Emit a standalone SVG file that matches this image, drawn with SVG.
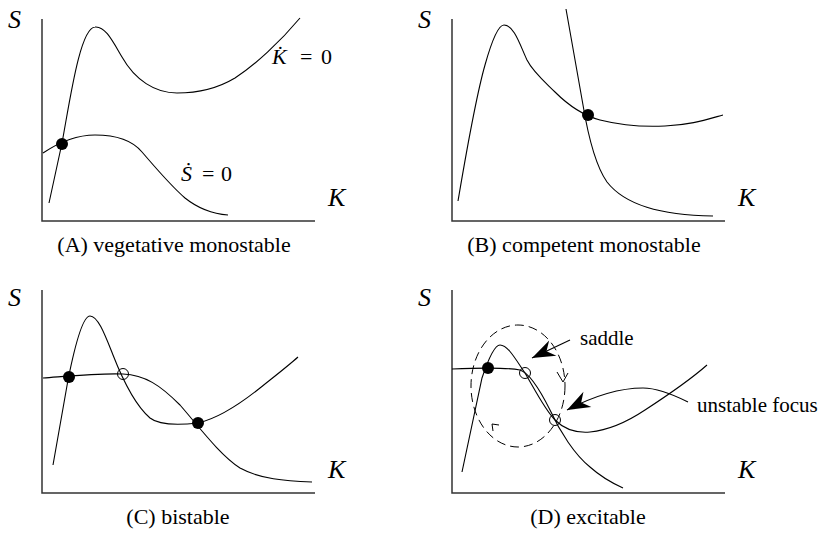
<svg xmlns="http://www.w3.org/2000/svg" width="833" height="538" viewBox="0 0 833 538">
<style>
  .axis { fill: none; stroke: #333; stroke-width: 1.5; }
  .curve { fill: none; stroke: #000; stroke-width: 1.1; }
  .dash { fill: none; stroke: #000; stroke-width: 1; stroke-dasharray: 9 5; }
  .chev { fill: none; stroke: #000; stroke-width: 1; }
  .stable { fill: #000; }
  .unstable { fill: none; stroke: #000; stroke-width: 1; }
</style>
<defs>
  <marker id="bigarrow" markerUnits="userSpaceOnUse" markerWidth="28" markerHeight="22" viewBox="-25 -11 28 22" refX="0" refY="0" orient="auto">
    <path d="M0,0 L-23,-8.5 L-16,0 L-23,8.5 Z" fill="#000"/>
  </marker>
</defs>

<g id="panelA">
  <path class="axis" d="M42,19 L42,221 L315,221"/>
  <text font-family="'Liberation Serif', serif" font-style="italic" font-size="26" x="8" y="28">S</text>
  <text font-family="'Liberation Serif', serif" font-style="italic" font-size="26" x="328" y="206">K</text>
  <path class="curve" d="M49,203 L62,143 C70,100 80,28 95,27 C105,26 112,40 122,57 C135,80 155,93 177,93 C200,93 220,87 235,78 C255,65 280,42 300,18"/>
  <path class="curve" d="M43,153 C55,145 75,135 95,135 C115,135 132,140 142,152 C155,167 170,185 185,198 C200,210 215,214 228,215"/>
  <circle class="stable" cx="62" cy="144" r="6"/>
  <text font-family="'Liberation Serif', serif" font-size="22" x="272" y="64"><tspan font-style="italic">K&#x307;</tspan><tspan x="300">=</tspan><tspan x="321">0</tspan></text>
  <text font-family="'Liberation Serif', serif" font-size="22" x="181" y="181"><tspan font-style="italic">S&#x307;</tspan><tspan x="202">=</tspan><tspan x="221">0</tspan></text>
  <text font-family="'Liberation Serif', serif" font-size="22" text-anchor="middle" x="174" y="252">(A) vegetative monostable</text>
</g>

<g id="panelB">
  <path class="axis" d="M452,19 L452,221 L725,221"/>
  <text font-family="'Liberation Serif', serif" font-style="italic" font-size="26" x="418" y="28">S</text>
  <text font-family="'Liberation Serif', serif" font-style="italic" font-size="26" x="738" y="206">K</text>
  <path class="curve" d="M458,201 C465,160 475,100 485,65 C492,40 498,25 504,25 C514,25 520,45 527,60 C533,72 545,82 555,92 C570,107 585,116 600,120 C620,125 645,127 665,126 C690,125 705,120 723,115"/>
  <path class="curve" d="M566,9 L583,105 C588,135 595,165 607,182 C625,205 660,215 713,216"/>
  <circle class="stable" cx="588" cy="115" r="6"/>
  <text font-family="'Liberation Serif', serif" font-size="22" text-anchor="middle" x="584" y="252">(B) competent monostable</text>
</g>

<g id="panelC">
  <path class="axis" d="M42,290 L42,493 L315,493"/>
  <text font-family="'Liberation Serif', serif" font-style="italic" font-size="26" x="8" y="306">S</text>
  <text font-family="'Liberation Serif', serif" font-style="italic" font-size="26" x="328" y="478">K</text>
  <path class="curve" d="M53,465 L68,380 C74,350 82,316 90,316 C98,316 105,335 113,355 C122,378 135,405 150,418 C160,426 180,425 198,423 C220,418 245,400 260,388 C275,376 288,366 298,357"/>
  <path class="curve" d="M43,378 C70,376 100,373 123,374 C145,375 160,385 180,405 C200,428 220,455 240,468 C260,479 285,481 312,482"/>
  <circle class="stable" cx="69" cy="377" r="6"/>
  <circle class="unstable" cx="123" cy="374" r="5.5"/>
  <circle class="stable" cx="198" cy="423" r="6"/>
  <text font-family="'Liberation Serif', serif" font-size="22" text-anchor="middle" x="178" y="524">(C) bistable</text>
</g>

<g id="panelD">
  <path class="axis" d="M452,290 L452,493 L725,493"/>
  <text font-family="'Liberation Serif', serif" font-style="italic" font-size="26" x="418" y="306">S</text>
  <text font-family="'Liberation Serif', serif" font-style="italic" font-size="26" x="738" y="478">K</text>
  <path class="curve" d="M462,472 L482,378 C488,360 494,345 500,345 C508,345 516,360 525,373 C535,390 545,410 555,420 C565,430 578,433 590,432 C610,430 630,420 645,410 C665,397 690,380 707,365"/>
  <path class="curve" d="M452,369 C475,368 505,367 520,370 C530,373 540,390 550,410 C560,432 575,455 590,467 C600,476 612,483 623,488"/>
  <ellipse class="dash" cx="518" cy="386" rx="47" ry="61"/>
  <polyline class="chev" points="557,372 563,382 568,373"/>
  <polyline class="chev" points="499,425 492,424 493,431"/>
  <circle class="stable" cx="488" cy="368" r="6"/>
  <circle class="unstable" cx="525" cy="373" r="5.5"/>
  <circle class="unstable" cx="555" cy="420" r="5.5"/>
  <text font-family="'Liberation Serif', serif" font-size="21" x="580" y="345">saddle</text>
  <text font-family="'Liberation Serif', serif" font-size="21" x="697" y="412">unstable focus</text>
  <text font-family="'Liberation Serif', serif" font-size="22" text-anchor="middle" x="588" y="524">(D) excitable</text>
</g>

<g id="connectors">
  <path class="curve" d="M570,340 L532,358" marker-end="url(#bigarrow)"/>
  <path class="curve" d="M688,402 C670,393 655,388 643,388 C615,388 590,398 567,410" marker-end="url(#bigarrow)"/>
</g>
</svg>
